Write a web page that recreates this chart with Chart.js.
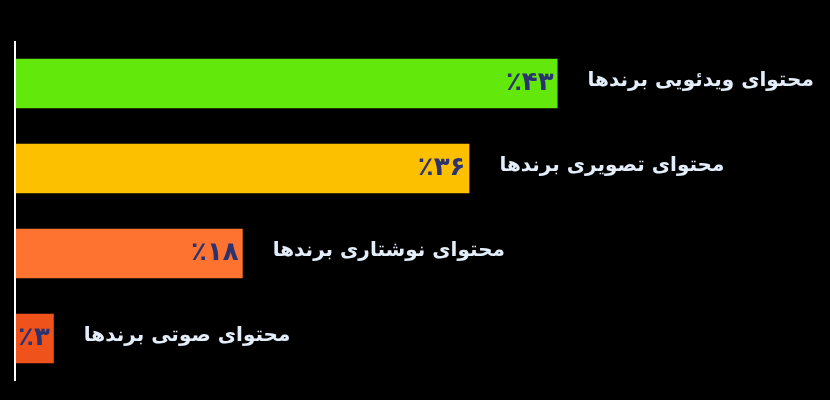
<!DOCTYPE html>
<html>
<head>
<meta charset="utf-8">
<script src="https://cdn.jsdelivr.net/npm/chart.js@4"></script>
<style>
  html, body { margin: 0; padding: 0; background: #000; }
  #wrap { width: 830px; height: 400px; position: relative; }
</style>
</head>
<body>
<div id="wrap"><canvas id="myBarChart"></canvas></div>
<script>
// data
const categories = ['محتوای ویدئویی برندها', 'محتوای تصویری برندها', 'محتوای نوشتاری برندها', 'محتوای صوتی برندها'];
const values = [43, 36, 18, 3];
const valueLabels = ['٪۴۳', '٪۳۶', '٪۱۸', '٪۳'];
const barColors = ['#62e80b', '#fdc000', '#ff7330', '#f0521c'];

const fontFamily = '"DejaVu Sans", sans-serif';

// draws the axis line, the value inside each bar and the category name after it
const labelPlugin = {
  id: 'barLabels',
  afterDatasetsDraw: (chart) => {
    const ctx = chart.ctx;
    const area = chart.chartArea;
    ctx.save();
    ctx.strokeStyle = '#ffffff';
    ctx.lineWidth = 2;
    ctx.beginPath();
    ctx.moveTo(area.left - 1, area.top);
    ctx.lineTo(area.left - 1, area.bottom);
    ctx.stroke();

    const meta = chart.getDatasetMeta(0);
    meta.data.forEach((bar, i) => {
      ctx.textBaseline = 'middle';
      ctx.font = 'bold 26px ' + fontFamily;
      ctx.fillStyle = '#2b3270';
      ctx.textAlign = 'right';
      ctx.fillText(valueLabels[i], bar.x - 4, bar.y);

      ctx.font = 'bold 20px ' + fontFamily;
      ctx.fillStyle = '#e3eefa';
      ctx.textAlign = 'left';
      ctx.fillText(categories[i], bar.x + 30, bar.y - 3);
    });
    ctx.restore();
  }
};

const config = {
  type: 'bar',
  data: {
    labels: categories,
    datasets: [{
      data: values,
      backgroundColor: barColors,
      borderWidth: 0,
      categoryPercentage: 1,
      barPercentage: 0.58
    }]
  },
  options: {
    indexAxis: 'y',
    responsive: true,
    maintainAspectRatio: false,
    animation: false,
    layout: {
      padding: { left: 16, right: 8, top: 41, bottom: 19 }
    },
    scales: {
      x: { display: false, min: 0, max: 64 },
      y: { display: false }
    },
    plugins: {
      legend: { display: false },
      tooltip: { enabled: false }
    }
  },
  plugins: [labelPlugin]
};

const myBarChart = new Chart(document.getElementById('myBarChart'), config);
</script>
</body>
</html>
